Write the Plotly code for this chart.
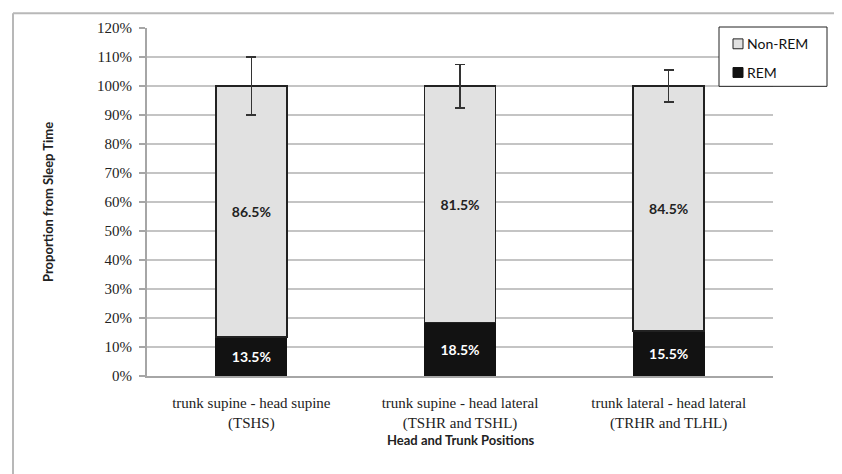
import plotly.graph_objects as go

categories = ["trunk supine - head supine<br>(TSHS)",
              "trunk supine - head lateral<br>(TSHR and TSHL)",
              "trunk lateral - head lateral<br>(TRHR and TLHL)"]
rem = [13.5, 18.5, 15.5]
non_rem = [86.5, 81.5, 84.5]
non_rem_err = [10, 7.5, 5.5]
y_ticks = list(range(0, 121, 10))
y_tick_labels = [f"{v}%" for v in y_ticks]

OFF = 8  # page body margin
W, H = 842 - OFF, 474 - OFF
L, R, T, B = 147 - OFF, 69, 24 - OFF, 98
pw, ph = W - L - R, H - T - B

def px_x(p):
    return (p - OFF - L) / pw

def px_y(p):
    return (H - B - (p - OFF)) / ph

sans = "Lato"
serif = "Liberation Serif"

fig = go.Figure()
fig.add_trace(go.Bar(
    x=categories, y=rem, name="REM",
    marker=dict(color="#121212", line=dict(color="#121212", width=1)),
    text=[f"{v}%" for v in rem], textposition="inside", insidetextanchor="middle",
    textangle=0, textfont=dict(family=sans, size=14, color="white", weight="bold"),
))
fig.add_trace(go.Bar(
    x=categories, y=non_rem, name="Non-REM",
    marker=dict(color="#e1e1e1", line=dict(color="#222222", width=1.5)),
    text=[f"{v}%" for v in non_rem], textposition="inside", insidetextanchor="middle",
    textangle=0, textfont=dict(family=sans, size=14, color="#222222", weight="bold"),
    error_y=dict(type="data", array=non_rem_err, visible=True, color="#333333",
                 thickness=1.5, width=5),
))

# manual legend (box, swatches, labels)
lx0, lx1, ly0, ly1 = 719, 827, 23, 83
shapes = [
    dict(type="line", xref="paper", yref="paper", x0=px_x(13), x1=px_x(860),
         y0=px_y(9), y1=px_y(9), line=dict(color="#b8b8b8", width=2)),
    dict(type="line", xref="paper", yref="paper", x0=px_x(13), x1=px_x(13),
         y0=px_y(9), y1=px_y(490), line=dict(color="#b8b8b8", width=2)),
    dict(type="rect", xref="paper", yref="paper", x0=px_x(lx0), x1=px_x(lx1),
         y0=px_y(ly1), y1=px_y(ly0), fillcolor="white",
         line=dict(color="#222222", width=1), layer="above"),
    dict(type="rect", xref="paper", yref="paper", x0=px_x(733), x1=px_x(743),
         y0=px_y(45), y1=px_y(35), fillcolor="#e1e1e1",
         line=dict(color="#222222", width=1), layer="above"),
    dict(type="rect", xref="paper", yref="paper", x0=px_x(733), x1=px_x(743),
         y0=px_y(74), y1=px_y(64), fillcolor="#121212",
         line=dict(color="#121212", width=1), layer="above"),
]
legend_items = [("Non-REM", 40), ("REM", 69)]
annotations = [
    dict(text="<b>Proportion from Sleep Time</b>", textangle=-90,
         xref="paper", yref="paper", x=px_x(48), y=px_y(200),
         xanchor="center", yanchor="middle", showarrow=False,
         font=dict(family=sans, size=13, color="#222222")),
    dict(text="<b>Head and Trunk Positions</b>",
         xref="paper", yref="paper", x=px_x(460), y=px_y(441),
         xanchor="center", yanchor="middle", showarrow=False,
         font=dict(family=sans, size=13, color="#222222")),
]
for name, yc in legend_items:
    annotations.append(dict(text=name, xref="paper", yref="paper",
                            x=px_x(745), y=px_y(yc), xanchor="left", yanchor="middle",
                            showarrow=False,
                            font=dict(family=sans, size=14, color="#111111")))

fig.update_layout(
    width=W, height=H, barmode="stack", bargap=0.66,
    margin=dict(l=L, r=R, t=T, b=B),
    plot_bgcolor="white", paper_bgcolor="white",
    showlegend=False,
    xaxis=dict(showline=True, linecolor="#a6a6a6", linewidth=2, ticks="",
               tickfont=dict(family=serif, size=15, color="#222222"),
               ticklabelstandoff=12, range=[-0.5, 2.5]),
    yaxis=dict(range=[0, 120], tickmode="array", tickvals=y_ticks, ticktext=y_tick_labels,
               showgrid=True, gridcolor="#c4c4c4", gridwidth=1.5,
               showline=True, linecolor="#a6a6a6", linewidth=2,
               ticks="outside", ticklen=6, tickcolor="#a6a6a6", tickwidth=2,
               ticklabelstandoff=4,
               tickfont=dict(family=serif, size=15, color="#222222"),
               zeroline=False),
    annotations=annotations,
    shapes=shapes,
)

fig.write_html("out.html")
